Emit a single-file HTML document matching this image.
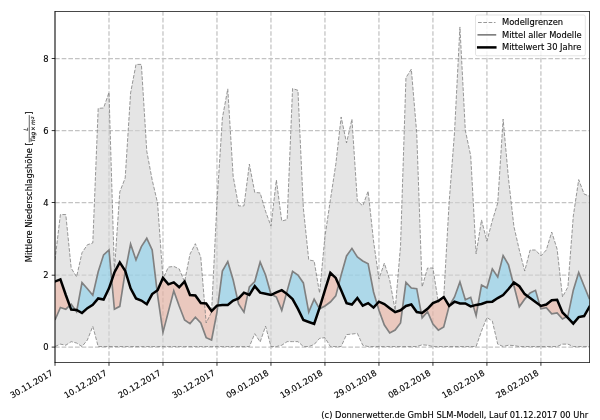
<!DOCTYPE html>
<html lang="de"><head><meta charset="utf-8"><title>Niederschlag SLM-Modell</title>
<style>
html,body{margin:0;padding:0;background:#fff}
body{width:600px;height:420px;overflow:hidden}
svg{display:block}
text{font-family:"DejaVu Sans","Liberation Sans",sans-serif;font-size:8.33px;fill:#000;stroke:#000;stroke-width:.22px;stroke-opacity:.55}
.band{fill:rgb(211,211,211);fill-opacity:.6}
.blue{fill:rgb(135,206,235);fill-opacity:.6}
.pink{fill:rgb(246,132,99);fill-opacity:.3}
.grid line{stroke:#c3c3c3;stroke-width:1.25;stroke-dasharray:4.654 2.013;fill:none}
.dash{stroke:#808080;stroke-opacity:.8;stroke-width:1;stroke-dasharray:3.7 1.6;fill:none}
.gl{stroke:#808080;stroke-width:1.67;fill:none;stroke-linejoin:miter;stroke-miterlimit:10}
.bl{stroke:#000;stroke-width:2.5;fill:none;stroke-linejoin:miter;stroke-miterlimit:10;stroke-linecap:square}
.ticks line{stroke:#000;stroke-width:.8}
.frame line{stroke:#000;stroke-width:.72}
</style></head>
<body>
<svg width="600" height="420" viewBox="0 0 600 420">
<rect width="600" height="420" fill="#fff"/>
<defs><clipPath id="ax"><rect x="55.0" y="11.5" width="534.5" height="351.0"/></clipPath></defs>
<g clip-path="url(#ax)">
<g class="grid"><line x1="108.99" y1="362.5" x2="108.99" y2="11.5"/><line x1="162.98" y1="362.5" x2="162.98" y2="11.5"/><line x1="216.97" y1="362.5" x2="216.97" y2="11.5"/><line x1="270.96" y1="362.5" x2="270.96" y2="11.5"/><line x1="324.95" y1="362.5" x2="324.95" y2="11.5"/><line x1="378.94" y1="362.5" x2="378.94" y2="11.5"/><line x1="432.93" y1="362.5" x2="432.93" y2="11.5"/><line x1="486.92" y1="362.5" x2="486.92" y2="11.5"/><line x1="540.91" y1="362.5" x2="540.91" y2="11.5"/><line x1="55.0" y1="347.10" x2="589.5" y2="347.10"/><line x1="55.0" y1="275.20" x2="589.5" y2="275.20"/><line x1="55.0" y1="202.50" x2="589.5" y2="202.50"/><line x1="55.0" y1="130.60" x2="589.5" y2="130.60"/><line x1="55.0" y1="58.50" x2="589.5" y2="58.50"/></g>
<polygon class="band" points="55.00,259.90 60.40,214.54 65.80,214.54 71.20,268.18 76.60,276.82 82.00,252.70 87.39,244.78 92.79,242.98 98.19,108.34 103.59,107.98 108.99,92.50 114.39,270.70 119.79,191.86 125.19,178.00 130.59,92.86 135.99,64.42 141.38,64.42 146.78,151.18 152.18,179.98 157.58,203.02 162.98,278.98 168.38,267.10 173.78,266.38 179.18,268.90 184.58,281.86 189.97,254.14 195.37,243.70 200.77,257.02 206.17,322.90 211.57,312.10 216.97,202.30 222.37,118.06 227.77,88.90 233.17,176.38 238.57,205.90 243.97,205.90 249.36,164.14 254.76,192.40 260.16,192.94 265.56,211.30 270.96,226.06 276.36,179.98 281.76,221.02 287.16,219.58 292.56,88.54 297.96,90.34 303.35,208.06 308.75,259.90 314.15,260.98 319.55,293.02 324.95,236.50 330.35,200.14 335.75,164.50 341.15,116.98 346.55,142.90 351.94,119.14 357.34,200.86 362.74,205.90 368.14,191.14 373.54,241.00 378.94,278.98 384.34,263.14 389.74,280.06 395.14,310.30 400.54,245.50 405.94,77.74 411.33,69.10 416.73,133.18 422.13,286.90 427.53,268.00 432.93,268.00 438.33,302.38 443.73,297.34 449.13,202.30 454.53,132.10 459.93,26.98 465.32,130.30 470.72,155.86 476.12,253.78 481.52,219.94 486.92,241.18 492.32,220.66 497.72,203.02 503.12,119.14 508.52,178.90 513.91,226.42 519.31,250.00 524.71,271.06 530.11,250.00 535.51,250.00 540.91,255.94 546.31,250.00 551.71,232.00 557.11,249.10 562.51,296.98 567.90,286.90 573.30,215.98 578.70,179.62 584.10,194.02 589.50,196.18 589.50,196.18 589.50,346.55 589.50,346.55 584.10,346.55 578.70,346.55 573.30,346.55 567.90,344.14 562.51,344.14 557.11,346.55 551.71,346.55 546.31,346.55 540.91,346.55 535.51,346.55 530.11,346.55 524.71,346.55 519.31,346.55 513.91,345.58 508.52,345.22 503.12,346.55 497.72,344.14 492.32,321.10 486.92,317.50 481.52,331.00 476.12,346.55 470.72,346.55 465.32,346.55 459.93,346.55 454.53,346.55 449.13,346.55 443.73,346.55 438.33,346.55 432.93,346.55 427.53,345.22 422.13,344.86 416.73,346.55 411.33,346.55 405.94,346.55 400.54,346.55 395.14,346.55 389.74,346.55 384.34,346.55 378.94,346.55 373.54,346.55 368.14,346.55 362.74,345.22 357.34,333.34 351.94,334.06 346.55,334.60 341.15,346.55 335.75,346.55 330.35,346.55 324.95,337.66 319.55,338.38 314.15,344.50 308.75,346.55 303.35,346.55 297.96,341.62 292.56,341.62 287.16,341.62 281.76,345.22 276.36,346.55 270.96,346.55 265.56,326.14 260.16,341.98 254.76,333.70 249.36,346.55 243.97,346.55 238.57,346.55 233.17,346.55 227.77,346.55 222.37,346.55 216.97,346.55 211.57,346.55 206.17,346.55 200.77,346.55 195.37,346.55 189.97,346.55 184.58,346.55 179.18,346.55 173.78,346.55 168.38,346.55 162.98,346.55 157.58,346.55 152.18,346.55 146.78,346.55 141.38,346.55 135.99,346.55 130.59,346.55 125.19,346.55 119.79,346.55 114.39,346.55 108.99,346.55 103.59,346.55 98.19,346.55 92.79,326.32 87.39,340.00 82.00,346.55 76.60,343.06 71.20,341.62 65.80,345.22 60.40,344.14 55.00,346.55"/>
<path class="blue" d="M69.71 305.57 L71.20 304.18 L75.25 309.85 L75.25 309.85 L71.20 309.58 L69.71 305.57Z M76.90 310.11 L82.00 282.58 L87.39 288.70 L92.79 295.18 L98.19 271.78 L103.59 254.86 L108.99 250.00 L111.75 280.25 L111.75 280.25 L108.99 288.34 L103.59 299.50 L98.19 298.42 L92.79 304.90 L87.39 308.14 L82.00 313.00 L76.90 310.11Z M125.32 271.12 L130.59 244.06 L135.99 259.90 L141.38 246.58 L146.78 238.30 L152.18 250.00 L157.03 290.55 L157.03 290.55 L152.18 294.10 L146.78 304.18 L141.38 300.58 L135.99 298.42 L130.59 288.34 L125.32 271.12Z M217.84 305.50 L222.37 271.06 L227.77 261.70 L233.17 280.06 L237.41 298.88 L237.41 298.88 L233.17 300.58 L227.77 304.90 L222.37 304.90 L217.84 305.50Z M247.78 294.31 L249.36 286.90 L254.76 281.50 L260.16 262.06 L265.56 275.02 L270.96 294.10 L271.83 294.56 L271.83 294.56 L270.96 295.00 L265.56 293.74 L260.16 292.66 L254.76 286.18 L249.36 295.00 L247.78 294.31Z M286.41 293.55 L287.16 290.86 L292.56 271.42 L297.96 275.02 L303.35 282.94 L308.75 312.10 L314.15 299.14 L319.33 308.46 L319.33 308.46 L314.15 323.98 L308.75 322.00 L303.35 320.02 L297.96 308.86 L292.56 299.14 L287.16 294.10 L286.41 293.55Z M338.68 284.55 L341.15 275.02 L346.55 255.94 L351.94 248.38 L357.34 257.02 L362.74 260.98 L368.14 263.86 L373.54 291.94 L377.02 303.77 L377.02 303.77 L373.54 307.60 L368.14 303.10 L362.74 305.62 L357.34 298.06 L351.94 304.54 L346.55 303.10 L341.15 290.14 L338.68 284.55Z M402.42 308.80 L405.94 282.40 L411.33 287.98 L416.73 288.70 L421.20 312.85 L421.20 312.85 L416.73 312.10 L411.33 304.54 L405.94 305.98 L402.42 308.80Z M449.13 305.98 L454.53 296.98 L459.93 281.86 L465.32 299.86 L470.72 297.34 L473.18 305.69 L473.18 305.69 L470.72 306.34 L465.32 303.46 L459.93 303.46 L454.53 301.66 L449.13 305.98Z M478.09 304.57 L481.52 285.10 L486.92 287.98 L492.32 268.90 L497.72 277.00 L503.12 255.58 L508.52 264.94 L513.24 283.23 L513.24 283.23 L508.52 289.06 L503.12 295.00 L497.72 298.06 L492.32 301.66 L486.92 302.02 L481.52 304.00 L478.09 304.57Z M527.41 296.08 L530.11 293.02 L535.51 290.32 L539.84 305.20 L539.84 305.20 L535.51 302.02 L530.11 298.06 L527.41 296.08Z M566.73 316.69 L567.90 316.06 L573.30 290.14 L578.70 272.50 L584.10 286.00 L589.50 299.14 L589.50 299.14 L589.50 306.70 L589.50 306.70 L584.10 316.06 L578.70 317.14 L573.30 323.62 L567.90 317.86 L566.73 316.69Z"/>
<path class="pink" d="M55.00 320.02 L60.40 307.42 L65.80 309.22 L69.71 305.57 L69.71 305.57 L65.80 295.00 L60.40 279.34 L55.00 281.50Z M75.25 309.85 L76.60 311.74 L76.90 310.11 L76.90 310.11 L76.60 309.94 L75.25 309.85Z M111.75 280.25 L114.39 309.22 L119.79 306.34 L125.19 271.78 L125.32 271.12 L125.32 271.12 L125.19 270.70 L119.79 262.42 L114.39 272.50 L111.75 280.25Z M157.03 290.55 L157.58 295.18 L162.98 332.40 L168.38 311.60 L173.78 290.86 L179.18 305.98 L184.58 320.02 L189.97 323.62 L195.37 317.14 L200.77 322.90 L206.17 337.66 L211.57 340.00 L216.97 312.10 L217.84 305.50 L217.84 305.50 L216.97 305.62 L211.57 311.02 L206.17 303.46 L200.77 303.10 L195.37 295.54 L189.97 295.00 L184.58 281.50 L179.18 287.26 L173.78 282.40 L168.38 284.38 L162.98 277.90 L157.58 290.14 L157.03 290.55Z M237.41 298.88 L238.57 304.00 L243.97 312.10 L247.78 294.31 L247.78 294.31 L243.97 292.66 L238.57 298.42 L237.41 298.88Z M271.83 294.56 L276.36 296.98 L281.76 310.30 L286.41 293.55 L286.41 293.55 L281.76 290.14 L276.36 292.30 L271.83 294.56Z M319.33 308.46 L319.55 308.86 L324.95 305.98 L330.35 302.02 L335.75 295.90 L338.68 284.55 L338.68 284.55 L335.75 277.90 L330.35 272.86 L324.95 290.14 L319.55 307.78 L319.33 308.46Z M377.02 303.77 L378.94 310.30 L384.34 325.06 L389.74 332.98 L395.14 330.10 L400.54 322.90 L402.42 308.80 L402.42 308.80 L400.54 310.30 L395.14 312.10 L389.74 308.14 L384.34 304.00 L378.94 301.66 L377.02 303.77Z M421.20 312.85 L422.13 317.86 L427.53 311.74 L432.93 323.98 L438.33 330.10 L443.73 326.86 L449.13 305.98 L449.13 305.98 L443.73 296.98 L438.33 300.94 L432.93 303.10 L427.53 308.86 L422.13 313.00 L421.20 312.85Z M473.18 305.69 L476.12 315.70 L478.09 304.57 L478.09 304.57 L476.12 304.90 L473.18 305.69Z M513.24 283.23 L513.91 285.82 L519.31 306.70 L524.71 299.14 L527.41 296.08 L527.41 296.08 L524.71 294.10 L519.31 286.18 L513.91 282.40 L513.24 283.23Z M539.84 305.20 L540.91 308.86 L546.31 307.78 L551.71 313.90 L557.11 313.00 L562.51 318.94 L566.73 316.69 L566.73 316.69 L562.51 312.46 L557.11 299.86 L551.71 300.22 L546.31 304.54 L540.91 305.98 L539.84 305.20Z"/>
<polyline class="dash" points="55.00,259.90 60.40,214.54 65.80,214.54 71.20,268.18 76.60,276.82 82.00,252.70 87.39,244.78 92.79,242.98 98.19,108.34 103.59,107.98 108.99,92.50 114.39,270.70 119.79,191.86 125.19,178.00 130.59,92.86 135.99,64.42 141.38,64.42 146.78,151.18 152.18,179.98 157.58,203.02 162.98,278.98 168.38,267.10 173.78,266.38 179.18,268.90 184.58,281.86 189.97,254.14 195.37,243.70 200.77,257.02 206.17,322.90 211.57,312.10 216.97,202.30 222.37,118.06 227.77,88.90 233.17,176.38 238.57,205.90 243.97,205.90 249.36,164.14 254.76,192.40 260.16,192.94 265.56,211.30 270.96,226.06 276.36,179.98 281.76,221.02 287.16,219.58 292.56,88.54 297.96,90.34 303.35,208.06 308.75,259.90 314.15,260.98 319.55,293.02 324.95,236.50 330.35,200.14 335.75,164.50 341.15,116.98 346.55,142.90 351.94,119.14 357.34,200.86 362.74,205.90 368.14,191.14 373.54,241.00 378.94,278.98 384.34,263.14 389.74,280.06 395.14,310.30 400.54,245.50 405.94,77.74 411.33,69.10 416.73,133.18 422.13,286.90 427.53,268.00 432.93,268.00 438.33,302.38 443.73,297.34 449.13,202.30 454.53,132.10 459.93,26.98 465.32,130.30 470.72,155.86 476.12,253.78 481.52,219.94 486.92,241.18 492.32,220.66 497.72,203.02 503.12,119.14 508.52,178.90 513.91,226.42 519.31,250.00 524.71,271.06 530.11,250.00 535.51,250.00 540.91,255.94 546.31,250.00 551.71,232.00 557.11,249.10 562.51,296.98 567.90,286.90 573.30,215.98 578.70,179.62 584.10,194.02 589.50,196.18 589.50,196.18"/>
<polyline class="dash" points="55.00,346.55 60.40,344.14 65.80,345.22 71.20,341.62 76.60,343.06 82.00,346.55 87.39,340.00 92.79,326.32 98.19,346.55 103.59,346.55 108.99,346.55 114.39,346.55 119.79,346.55 125.19,346.55 130.59,346.55 135.99,346.55 141.38,346.55 146.78,346.55 152.18,346.55 157.58,346.55 162.98,346.55 168.38,346.55 173.78,346.55 179.18,346.55 184.58,346.55 189.97,346.55 195.37,346.55 200.77,346.55 206.17,346.55 211.57,346.55 216.97,346.55 222.37,346.55 227.77,346.55 233.17,346.55 238.57,346.55 243.97,346.55 249.36,346.55 254.76,333.70 260.16,341.98 265.56,326.14 270.96,346.55 276.36,346.55 281.76,345.22 287.16,341.62 292.56,341.62 297.96,341.62 303.35,346.55 308.75,346.55 314.15,344.50 319.55,338.38 324.95,337.66 330.35,346.55 335.75,346.55 341.15,346.55 346.55,334.60 351.94,334.06 357.34,333.34 362.74,345.22 368.14,346.55 373.54,346.55 378.94,346.55 384.34,346.55 389.74,346.55 395.14,346.55 400.54,346.55 405.94,346.55 411.33,346.55 416.73,346.55 422.13,344.86 427.53,345.22 432.93,346.55 438.33,346.55 443.73,346.55 449.13,346.55 454.53,346.55 459.93,346.55 465.32,346.55 470.72,346.55 476.12,346.55 481.52,331.00 486.92,317.50 492.32,321.10 497.72,344.14 503.12,346.55 508.52,345.22 513.91,345.58 519.31,346.55 524.71,346.55 530.11,346.55 535.51,346.55 540.91,346.55 546.31,346.55 551.71,346.55 557.11,346.55 562.51,344.14 567.90,344.14 573.30,346.55 578.70,346.55 584.10,346.55 589.50,346.55 589.50,346.55"/>
<polyline class="gl" points="55.00,320.02 60.40,307.42 65.80,309.22 71.20,304.18 76.60,311.74 82.00,282.58 87.39,288.70 92.79,295.18 98.19,271.78 103.59,254.86 108.99,250.00 114.39,309.22 119.79,306.34 125.19,271.78 130.59,244.06 135.99,259.90 141.38,246.58 146.78,238.30 152.18,250.00 157.58,295.18 162.98,332.40 168.38,311.60 173.78,290.86 179.18,305.98 184.58,320.02 189.97,323.62 195.37,317.14 200.77,322.90 206.17,337.66 211.57,340.00 216.97,312.10 222.37,271.06 227.77,261.70 233.17,280.06 238.57,304.00 243.97,312.10 249.36,286.90 254.76,281.50 260.16,262.06 265.56,275.02 270.96,294.10 276.36,296.98 281.76,310.30 287.16,290.86 292.56,271.42 297.96,275.02 303.35,282.94 308.75,312.10 314.15,299.14 319.55,308.86 324.95,305.98 330.35,302.02 335.75,295.90 341.15,275.02 346.55,255.94 351.94,248.38 357.34,257.02 362.74,260.98 368.14,263.86 373.54,291.94 378.94,310.30 384.34,325.06 389.74,332.98 395.14,330.10 400.54,322.90 405.94,282.40 411.33,287.98 416.73,288.70 422.13,317.86 427.53,311.74 432.93,323.98 438.33,330.10 443.73,326.86 449.13,305.98 454.53,296.98 459.93,281.86 465.32,299.86 470.72,297.34 476.12,315.70 481.52,285.10 486.92,287.98 492.32,268.90 497.72,277.00 503.12,255.58 508.52,264.94 513.91,285.82 519.31,306.70 524.71,299.14 530.11,293.02 535.51,290.32 540.91,308.86 546.31,307.78 551.71,313.90 557.11,313.00 562.51,318.94 567.90,316.06 573.30,290.14 578.70,272.50 584.10,286.00 589.50,299.14 589.50,299.14"/>
<polyline class="bl" points="55.00,281.50 60.40,279.34 65.80,295.00 71.20,309.58 76.60,309.94 82.00,313.00 87.39,308.14 92.79,304.90 98.19,298.42 103.59,299.50 108.99,288.34 114.39,272.50 119.79,262.42 125.19,270.70 130.59,288.34 135.99,298.42 141.38,300.58 146.78,304.18 152.18,294.10 157.58,290.14 162.98,277.90 168.38,284.38 173.78,282.40 179.18,287.26 184.58,281.50 189.97,295.00 195.37,295.54 200.77,303.10 206.17,303.46 211.57,311.02 216.97,305.62 222.37,304.90 227.77,304.90 233.17,300.58 238.57,298.42 243.97,292.66 249.36,295.00 254.76,286.18 260.16,292.66 265.56,293.74 270.96,295.00 276.36,292.30 281.76,290.14 287.16,294.10 292.56,299.14 297.96,308.86 303.35,320.02 308.75,322.00 314.15,323.98 319.55,307.78 324.95,290.14 330.35,272.86 335.75,277.90 341.15,290.14 346.55,303.10 351.94,304.54 357.34,298.06 362.74,305.62 368.14,303.10 373.54,307.60 378.94,301.66 384.34,304.00 389.74,308.14 395.14,312.10 400.54,310.30 405.94,305.98 411.33,304.54 416.73,312.10 422.13,313.00 427.53,308.86 432.93,303.10 438.33,300.94 443.73,296.98 449.13,305.98 454.53,301.66 459.93,303.46 465.32,303.46 470.72,306.34 476.12,304.90 481.52,304.00 486.92,302.02 492.32,301.66 497.72,298.06 503.12,295.00 508.52,289.06 513.91,282.40 519.31,286.18 524.71,294.10 530.11,298.06 535.51,302.02 540.91,305.98 546.31,304.54 551.71,300.22 557.11,299.86 562.51,312.46 567.90,317.86 573.30,323.62 578.70,317.14 584.10,316.06 589.50,306.70 589.50,306.70"/>
</g>
<g class="frame"><line x1="55" y1="11.2" x2="55" y2="362.8" style="stroke-width:1.05"/><line x1="589.5" y1="11.2" x2="589.5" y2="362.8"/><line x1="54.7" y1="11.5" x2="589.8" y2="11.5"/><line x1="54.7" y1="362.5" x2="589.8" y2="362.5"/></g><!-- 55 12 534 351 -->
<g class="ticks"><line x1="55.00" y1="362.5" x2="55.00" y2="365.8"/><line x1="108.99" y1="362.5" x2="108.99" y2="365.8"/><line x1="162.98" y1="362.5" x2="162.98" y2="365.8"/><line x1="216.97" y1="362.5" x2="216.97" y2="365.8"/><line x1="270.96" y1="362.5" x2="270.96" y2="365.8"/><line x1="324.95" y1="362.5" x2="324.95" y2="365.8"/><line x1="378.94" y1="362.5" x2="378.94" y2="365.8"/><line x1="432.93" y1="362.5" x2="432.93" y2="365.8"/><line x1="486.92" y1="362.5" x2="486.92" y2="365.8"/><line x1="540.91" y1="362.5" x2="540.91" y2="365.8"/><line x1="51.7" y1="347.10" x2="55.0" y2="347.10"/><line x1="51.7" y1="275.20" x2="55.0" y2="275.20"/><line x1="51.7" y1="202.50" x2="55.0" y2="202.50"/><line x1="51.7" y1="130.60" x2="55.0" y2="130.60"/><line x1="51.7" y1="58.50" x2="55.0" y2="58.50"/></g>
<g class="labels"><text transform="translate(53.50,374.70) rotate(-30)" text-anchor="end">30.11.2017</text>
<text transform="translate(107.49,374.70) rotate(-30)" text-anchor="end">10.12.2017</text>
<text transform="translate(161.48,374.70) rotate(-30)" text-anchor="end">20.12.2017</text>
<text transform="translate(215.47,374.70) rotate(-30)" text-anchor="end">30.12.2017</text>
<text transform="translate(269.46,374.70) rotate(-30)" text-anchor="end">09.01.2018</text>
<text transform="translate(323.45,374.70) rotate(-30)" text-anchor="end">19.01.2018</text>
<text transform="translate(377.44,374.70) rotate(-30)" text-anchor="end">29.01.2018</text>
<text transform="translate(431.43,374.70) rotate(-30)" text-anchor="end">08.02.2018</text>
<text transform="translate(485.42,374.70) rotate(-30)" text-anchor="end">18.02.2018</text>
<text transform="translate(539.41,374.70) rotate(-30)" text-anchor="end">28.02.2018</text>
<text x="48.60" y="349.80" text-anchor="end">0</text>
<text x="48.60" y="277.90" text-anchor="end">2</text>
<text x="48.60" y="205.80" text-anchor="end">4</text>
<text x="48.60" y="133.80" text-anchor="end">6</text>
<text x="48.60" y="61.80" text-anchor="end">8</text></g>
<g transform="translate(31.80,262.20) rotate(-90)">
<text x="0" y="0">Mittlere Niederschlagshöhe [</text>
<text x="133.1" y="-4.2" text-anchor="middle" style="font-style:oblique;font-size:5.83px">L</text>
<rect x="119.8" y="-2.95" width="27.3" height="0.62" fill="#000"/>
<text y="3.5" style="font-style:oblique;font-size:5.83px"><tspan x="120.3">Tag</tspan><tspan x="131.2" style="font-style:normal">×</tspan><tspan x="137.2">m</tspan><tspan x="143.1" dy="-1.7" style="font-size:4.08px">2</tspan></text>
<text x="147.5" y="0">]</text>
</g>
<rect x="475.5" y="15.0" width="109.8" height="40.8" rx="1.7" ry="1.7" fill="#fff" fill-opacity="0.8" stroke="#ccc" stroke-opacity="0.8" stroke-width="0.67"/>
<line x1="478" y1="22.5" x2="495.5" y2="22.5" class="dash"/>
<line x1="478.3" y1="34.85" x2="495.4" y2="34.85" class="gl" style="stroke-linecap:square"/>
<line x1="478.2" y1="47.4" x2="495.3" y2="47.4" class="bl"/>
<text x="502.1" y="25.0">Modellgrenzen</text>
<text x="502.1" y="37.6">Mittel aller Modelle</text>
<text x="502.1" y="49.8">Mittelwert 30 Jahre</text>
<text x="588.1" y="417.8" text-anchor="end">(c) Donnerwetter.de GmbH SLM-Modell, Lauf 01.12.2017 00 Uhr</text>
</svg>
</body></html>
